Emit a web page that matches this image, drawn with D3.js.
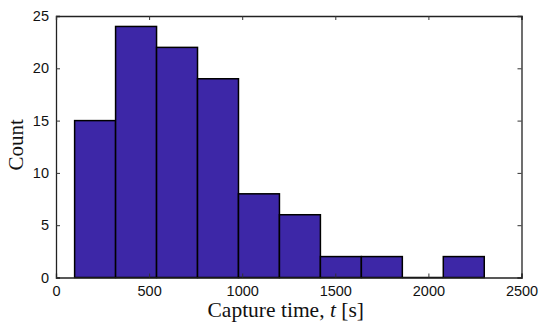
<!DOCTYPE html>
<html>
<head>
<meta charset="utf-8">
<script src="https://cdn.jsdelivr.net/npm/d3@7"></script>
<style>
  html, body { margin: 0; padding: 0; background: #fff; }
  svg { display: block; }
</style>
</head>
<body>
<svg id="chart" width="539" height="323"></svg>
<script>
// Histogram bin edges (seconds) and counts per bin
const binEdges = [100, 320, 540, 760, 980, 1200, 1420, 1640, 1860, 2080, 2300];
const counts = [15, 24, 22, 19, 8, 6, 2, 2, 0, 2];
const xTicks = [0, 500, 1000, 1500, 2000, 2500];
const yTicks = [0, 5, 10, 15, 20, 25];

const bins = counts.map((c, i) => ({ x0: binEdges[i], x1: binEdges[i + 1], count: c }));

const svg = d3.select("#chart");
const margin = { left: 56, right: 17.5, top: 16, bottom: 45.5 };
const W = 539, H = 323;

const x = d3.scaleLinear().domain([0, 2500]).range([margin.left, W - margin.right]);
const y = d3.scaleLinear().domain([0, 25]).range([H - margin.bottom, margin.top]);

// Bars
svg.append("g")
  .selectAll("rect")
  .data(bins.filter(d => d.count > 0))
  .join("rect")
  .attr("x", d => x(d.x0))
  .attr("y", d => y(d.count))
  .attr("width", d => x(d.x1) - x(d.x0))
  .attr("height", d => y(0) - y(d.count))
  .attr("fill", "#3d27a7")
  .attr("stroke", "#000")
  .attr("stroke-width", 1.5);

// Empty bin sits on the baseline as a flat line
svg.append("g")
  .selectAll("line")
  .data(bins.filter(d => d.count === 0))
  .join("line")
  .attr("x1", d => x(d.x0)).attr("x2", d => x(d.x1))
  .attr("y1", y(0)).attr("y2", y(0))
  .attr("stroke", "#000").attr("stroke-width", 1.5);

const tickLen = 4;
const font = "'Liberation Sans', Arial, sans-serif";

// Bottom axis (inward ticks)
const axBottom = svg.append("g")
  .attr("transform", `translate(0,${y(0)})`)
  .call(d3.axisBottom(x).tickValues(xTicks).tickSize(-tickLen).tickPadding(8).tickFormat(d3.format("d")));
// Left axis
const axLeft = svg.append("g")
  .attr("transform", `translate(${x(0)},0)`)
  .call(d3.axisLeft(y).tickValues(yTicks).tickSize(-tickLen).tickPadding(7).tickFormat(d3.format("d")));
// Top axis, ticks only
const axTop = svg.append("g")
  .attr("transform", `translate(0,${y(25)})`)
  .call(d3.axisTop(x).tickValues(xTicks).tickSize(-tickLen).tickFormat(""));
// Right axis, ticks only
const axRight = svg.append("g")
  .attr("transform", `translate(${x(2500)},0)`)
  .call(d3.axisRight(y).tickValues(yTicks).tickSize(-tickLen).tickFormat(""));

[axBottom, axLeft, axTop, axRight].forEach(g => {
  g.select(".domain").attr("stroke", "#222").attr("stroke-width", 1.3);
  g.selectAll(".tick line").attr("stroke", "#333").attr("stroke-width", 1);
  g.selectAll(".tick text").attr("font-family", font).attr("font-size", 14.5).attr("fill", "#111");
});

// Axis titles
const serif = "'Liberation Serif', 'Times New Roman', serif";
const xl = svg.append("text")
  .attr("x", (x(0) + x(2500)) / 2 - 3)
  .attr("y", 317)
  .attr("text-anchor", "middle")
  .attr("font-family", serif)
  .attr("font-size", 21.5)
  .attr("fill", "#111");
xl.append("tspan").text("Capture time, ");
xl.append("tspan").attr("font-style", "italic").text("t");
xl.append("tspan").text(" [s]");

svg.append("text")
  .attr("transform", `translate(23,${(y(0) + y(25)) / 2 - 2}) rotate(-90)`)
  .attr("text-anchor", "middle")
  .attr("font-family", serif)
  .attr("font-size", 21)
  .attr("fill", "#111")
  .text("Count");
</script>
</body>
</html>
